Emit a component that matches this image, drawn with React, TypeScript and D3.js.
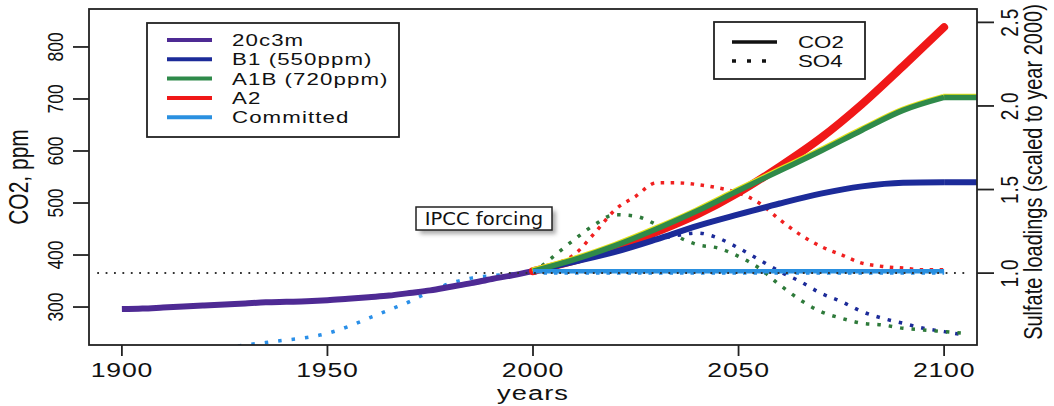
import { useEffect } from 'react';
import * as d3 from 'd3';

const W = 1054;
const H = 406;
const box = { left: 89, right: 977, top: 9, bottom: 345 };

// CO2 (ppm), historical run
const histYears = [1900, 1905, 1910, 1915, 1920, 1925, 1930, 1935, 1940, 1945, 1950, 1955, 1960, 1965, 1970, 1975, 1980, 1985, 1990, 1995, 2000];
const co2Hist = [296, 297, 299, 301, 303, 305, 307, 309, 310, 311, 313, 316, 319, 322, 327, 332, 339, 346, 354, 361, 369];

// CO2 (ppm), scenarios
const scenYears = [2000, 2010, 2020, 2030, 2040, 2050, 2060, 2070, 2080, 2090, 2100];
const co2B1 = [369, 387, 406, 430, 456, 478, 499, 518, 532, 539, 540];
const co2A1B = [369, 391, 418, 450, 485, 524, 562, 600, 640, 678, 703];
const co2A2 = [369, 389, 413, 444, 478, 520, 570, 625, 690, 763, 838];
const co2Committed = [369, 369, 369, 369, 369, 369, 369, 369, 369, 369, 369];
const stabYears = [2100, 2110];
const co2B1Stab = [540, 540];
const co2A1BStab = [703, 703];

// sulfate loadings, scaled to 2000
const so4HistYears = [1925, 1930, 1935, 1940, 1945, 1950, 1955, 1960, 1965, 1970, 1975, 1980, 1985, 1990, 1995, 2000];
const so4Hist = [0.55, 0.57, 0.585, 0.6, 0.615, 0.64, 0.68, 0.73, 0.78, 0.83, 0.89, 0.94, 0.97, 0.985, 0.995, 1.0];
const so4Years = [2000, 2005, 2010, 2015, 2020, 2025, 2030, 2035, 2040, 2045, 2050, 2055, 2060, 2065, 2070, 2075, 2080, 2085, 2090, 2095, 2100, 2105];
const so4B1 = [1.0, 1.03, 1.07, 1.1, 1.13, 1.165, 1.2, 1.225, 1.24, 1.21, 1.15, 1.08, 1.01, 0.95, 0.88, 0.83, 0.77, 0.73, 0.7, 0.67, 0.65, 0.63];
const so4A1B = [1.0, 1.1, 1.2, 1.29, 1.35, 1.34, 1.29, 1.22, 1.17, 1.15, 1.1, 1.03, 0.93, 0.84, 0.77, 0.73, 0.7, 0.69, 0.67, 0.66, 0.65, 0.64];
const so4A2 = [1.0, 1.05, 1.11, 1.24, 1.38, 1.46, 1.54, 1.54, 1.53, 1.51, 1.48, 1.42, 1.32, 1.23, 1.16, 1.11, 1.06, 1.04, 1.03, 1.02, 1.02];
const so4Committed = [1.0, 1.0, 1.0, 1.0, 1.0, 1.0, 1.0, 1.0, 1.0, 1.0, 1.0, 1.0, 1.0, 1.0, 1.0, 1.0, 1.0, 1.0, 1.0, 1.0, 1.0];
const refYears = [1894, 2106];
const refLevel = [1.0, 1.0];

const xTicks = [1900, 1950, 2000, 2050, 2100];
const co2Ticks = [300, 400, 500, 600, 700, 800];
const so4Ticks = [1.0, 1.5, 2.0, 2.5];

const scenarioNames = ['20c3m', 'B1 (550ppm)', 'A1B (720ppm)', 'A2', 'Committed'];
const scenarioColors = ['#4e2a94', '#1c2b99', '#2f8a4a', '#f01818', '#2a90e0'];
const styleNames = ['CO2', 'SO4'];

const FONT = '"Liberation Sans", Arial, sans-serif';
const SX = 1.3; // the picture is stretched sideways

const x = d3.scaleLinear().domain([1892, 2108]).range([box.left, box.right]);
const yCo2 = d3.scaleLinear().domain([227, 873]).range([box.bottom, box.top]);
const ySo4 = d3.scaleLinear().domain([0.57, 2.58]).range([box.bottom, box.top]);

const pts = (xs: number[], ys: number[]) => ys.map((v, i) => [xs[i], v] as [number, number]);
const co2Line = d3.line<[number, number]>().x((d) => x(d[0])).y((d) => yCo2(d[1])).curve(d3.curveMonotoneX);
const so4Line = d3.line<[number, number]>().x((d) => x(d[0])).y((d) => ySo4(d[1])).curve(d3.curveMonotoneX);

function Txt({ x, y, size, rot, children, anchor = 'middle', sx = SX, ls = 0, family = FONT }: any) {
  return (
    <text
      transform={`translate(${x},${y}) scale(${sx},1)${rot ? ' rotate(-90)' : ''}`}
      fontFamily={family}
      fontSize={size}
      textAnchor={anchor}
      letterSpacing={ls}
      fill="#111"
    >
      {children}
    </text>
  );
}

export default function App() {
  useEffect(() => {
    document.body.style.margin = '0';
  }, []);

  const dotted = (d: string | null, color: string, dash = '3.5 7', w = 3.5) => (
    <path d={d || ''} fill="none" stroke={color} strokeWidth={w} strokeDasharray={dash} />
  );

  return (
    <svg width={W} height={H} style={{ display: 'block', background: '#fff' }}>
      <defs>
        <clipPath id="plot">
          <rect x={box.left} y={box.top} width={box.right - box.left} height={box.bottom - box.top} />
        </clipPath>
        <filter id="blur" x="-20%" y="-50%" width="140%" height="200%">
          <feGaussianBlur stdDeviation="2" />
        </filter>
      </defs>

      <g clipPath="url(#plot)">
        {/* sulfate, dotted */}
        {dotted(so4Line(pts(so4HistYears, so4Hist)), '#2a8fe8', '3.5 10')}
        {dotted(so4Line(pts(so4Years, so4Committed)), '#2a8fe8')}
        {dotted(so4Line(pts(so4Years, so4B1)), '#1c2b99', '3.5 8')}
        {dotted(so4Line(pts(so4Years, so4A1B)), '#2e7a3a', '3.5 8')}
        {dotted(so4Line(pts(so4Years, so4A2)), '#f02020', '3.5 6.5')}

        {/* CO2, solid */}
        <path d={co2Line(pts(histYears, co2Hist)) || ''} fill="none" stroke={scenarioColors[0]} strokeWidth={6} />
        <path d={co2Line(pts(scenYears, co2A2)) || ''} fill="none" stroke={scenarioColors[3]} strokeWidth={8} strokeLinecap="round" />
        <path d={co2Line(pts(scenYears, co2B1)) || ''} fill="none" stroke={scenarioColors[1]} strokeWidth={6} />
        <path d={co2Line(pts(stabYears, co2B1Stab)) || ''} fill="none" stroke={scenarioColors[1]} strokeWidth={6} />
        <g transform="translate(-1,-1.6)">
          <path d={co2Line(pts(scenYears, co2A1B)) || ''} fill="none" stroke="#e6e21a" strokeWidth={4} />
          <path d={co2Line(pts(stabYears, co2A1BStab)) || ''} fill="none" stroke="#e6e21a" strokeWidth={4} />
        </g>
        <path d={co2Line(pts(scenYears, co2A1B)) || ''} fill="none" stroke={scenarioColors[2]} strokeWidth={5.5} />
        <path d={co2Line(pts(stabYears, co2A1BStab)) || ''} fill="none" stroke={scenarioColors[2]} strokeWidth={5.5} />
        <path d={co2Line(pts(scenYears, co2Committed)) || ''} fill="none" stroke={scenarioColors[4]} strokeWidth={4.5} />

        {/* reference level */}
        {dotted(so4Line(pts(refYears, refLevel)), '#333', '1.8 6.6', 2)}
      </g>

      {/* frame and axes */}
      <rect x={box.left} y={box.top} width={box.right - box.left} height={box.bottom - box.top} fill="none" stroke="#222" strokeWidth={1.8} />
      {xTicks.map((t) => (
        <g key={t}>
          <line x1={x(t)} x2={x(t)} y1={box.bottom} y2={box.bottom + 11} stroke="#222" strokeWidth={1.8} />
          <Txt x={x(t)} y={377} size={20.5} ls={0.6}>{t}</Txt>
        </g>
      ))}
      {co2Ticks.map((t) => (
        <g key={t}>
          <line x1={box.left - 16} x2={box.left} y1={yCo2(t)} y2={yCo2(t)} stroke="#222" strokeWidth={1.8} />
          <Txt x={63} y={yCo2(t)} size={17.5} rot>{t}</Txt>
        </g>
      ))}
      {so4Ticks.map((t) => (
        <g key={t}>
          <line x1={box.right} x2={box.right + 17} y1={ySo4(t)} y2={ySo4(t)} stroke="#222" strokeWidth={1.8} />
          <Txt x={1018} y={ySo4(t)} size={19} ls={0.8} rot>{t.toFixed(1)}</Txt>
        </g>
      ))}
      <Txt x={533} y={400} size={21} ls={0.8}>years</Txt>
      <Txt x={28} y={177} size={21} rot>CO2, ppm</Txt>
      <Txt x={1042} y={172} size={20} rot>Sulfate loadings (scaled to year 2000)</Txt>

      {/* scenario legend */}
      <rect x={147} y={23} width={252} height={114} fill="#fff" stroke="#222" strokeWidth={1.8} />
      {scenarioNames.map((n, i) => {
        const cy = 40 + i * 19.3;
        return (
          <g key={n}>
            <line x1={167} x2={212} y1={cy} y2={cy} stroke={scenarioColors[i]} strokeWidth={4} />
            <Txt x={232} y={cy + 6} size={16.5} sx={1.35} ls={0.8} anchor="start">{n}</Txt>
          </g>
        );
      })}

      {/* line style legend */}
      <rect x={714} y={22} width={151} height={57} fill="#fff" stroke="#222" strokeWidth={1.8} />
      {styleNames.map((n, i) => {
        const cy = 42 + i * 19;
        return (
          <g key={n}>
            <line x1={732} x2={777} y1={cy} y2={cy} stroke="#111" strokeWidth={3.5} strokeDasharray={i === 1 ? '4 11' : undefined} />
            <Txt x={798} y={cy + 6} size={16.5} sx={1.35} anchor="start">{n}</Txt>
          </g>
        );
      })}

      {/* annotation */}
      <rect x={420} y={211} width={136} height={23} fill="#888" filter="url(#blur)" opacity={0.7} />
      <rect x={416} y={207} width={136} height={23} fill="#fff" stroke="#222" strokeWidth={1.5} />
      <Txt x={484} y={225} size={17} sx={1.15} family='"DejaVu Sans", Verdana, sans-serif'>IPCC forcing</Txt>
    </svg>
  );
}
